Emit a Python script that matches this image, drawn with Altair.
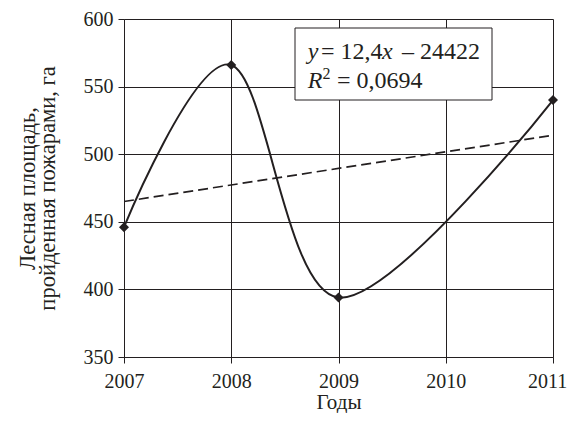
import altair as alt
import pandas as pd

# ---- data ----
years = [2007, 2008, 2009, 2011]
area = [446, 566, 394, 540]
trend_years = [2007, 2011]
trend_vals = [465, 514]
x_ticks = [2007, 2008, 2009, 2010, 2011]
y_ticks = [350, 400, 450, 500, 550, 600]
y_title = ["Лесная площадь,", "пройденная пожарами, га"]
x_title = "Годы"
eq1 = [("y", "italic"), ("= 12,4", "normal"), ("x", "italic"), ("– 24422", "normal")]
eq2 = [("R", "italic"), ("2", "normal"), ("= 0,0694", "normal")]

# ---- styles ----
FONT = "Liberation Serif, Times New Roman, serif"
INK = "#231f20"
W, H = 429, 338

df = pd.DataFrame({"year": years, "area": area})
tr = pd.DataFrame({"year": trend_years, "area": trend_vals})

xs = alt.Scale(domain=[2007, 2011], nice=False, zero=False)
ys = alt.Scale(domain=[350, 600], nice=False, zero=False)

xaxis = alt.Axis(
    values=x_ticks, format="d", title=x_title, grid=True,
    gridColor=INK, gridOpacity=1, gridWidth=1,
    domainColor=INK, domainWidth=1, tickColor=INK, tickSize=6, tickWidth=1,
    labelFont=FONT, labelFontSize=20, labelColor=INK, labelBaseline="alphabetic",
    labelPadding=24, labelFlush=False, labelOverlap=False,
    labelOffset={"condition": {"test": "datum.value == 2011", "value": -6}, "value": 0},
    titleFont=FONT, titleFontSize=21, titleFontWeight="normal", titleColor=INK,
    titleY=51, titleBaseline="alphabetic",
)
yaxis = alt.Axis(
    values=y_ticks, title=y_title, grid=True,
    gridColor=INK, gridOpacity=1, gridWidth=1,
    domainColor=INK, domainWidth=1, tickColor=INK, tickSize=6, tickWidth=1,
    labelFont=FONT, labelFontSize=20, labelColor=INK, labelPadding=5,
    labelFlush=False, labelOverlap=False,
    titleFont=FONT, titleFontSize=22.5, titleFontWeight="normal", titleColor=INK,
    titleX=-90, titleY=H / 2, titleAngle=270, titleAlign="center",
    titleBaseline="alphabetic", titleLineHeight=20,
)

curve = alt.Chart(df).mark_line(
    interpolate="cardinal", color=INK, strokeWidth=2
).encode(
    x=alt.X("year:Q", scale=xs, axis=xaxis),
    y=alt.Y("area:Q", scale=ys, axis=yaxis),
)

trend = alt.Chart(tr).mark_line(
    color=INK, strokeWidth=1.7, strokeDash=[10, 5]
).encode(
    x=alt.X("year:Q", scale=xs),
    y=alt.Y("area:Q", scale=ys),
)

points = alt.Chart(df).mark_point(
    shape="diamond", filled=True, size=100, color=INK, opacity=1
).encode(
    x=alt.X("year:Q", scale=xs),
    y=alt.Y("area:Q", scale=ys),
)

one = pd.DataFrame({"k": [0]})
box = alt.Chart(one).mark_rect(
    fill="white", stroke=INK, strokeWidth=1
).encode(
    x=alt.value(171), x2=alt.value(368), y=alt.value(9), y2=alt.value(81)
)

def piece(txt, style, x, y, size=24):
    return alt.Chart(one).mark_text(
        align="left", baseline="alphabetic", font=FONT, fontSize=size,
        fontStyle=style, color=INK
    ).encode(x=alt.value(x), y=alt.value(y), text=alt.value(txt))

x1 = [183.7, 197, 258, 278]
texts = [piece(t, s, x, 40) for (t, s), x in zip(eq1, x1)]
texts.append(piece(eq2[0][0], eq2[0][1], 183.7, 69))
texts.append(piece(eq2[1][0], eq2[1][1], 198.5, 60, size=16))
texts.append(piece(eq2[2][0], eq2[2][1], 213, 69))

chart = alt.layer(curve, trend, points, box, *texts).properties(
    width=W, height=H,
    padding={"left": 116, "top": 11, "right": 15, "bottom": 56},
    autosize=alt.AutoSizeParams(type="none"),
    background="white",
).configure_view(strokeWidth=0)

chart.save("out.html", embed_options={"renderer": "svg", "actions": False})
